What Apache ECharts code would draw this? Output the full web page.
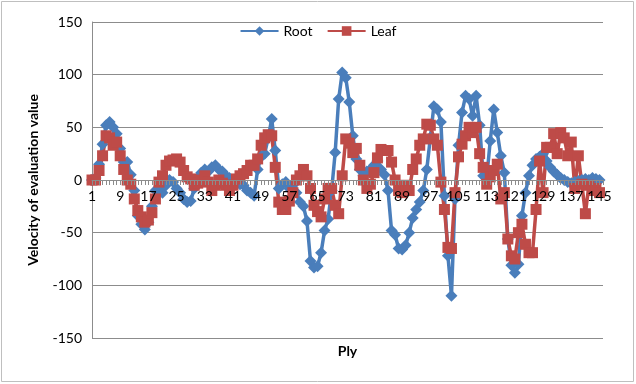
<!DOCTYPE html>
<html>
<head>
<meta charset="utf-8">
<script src="https://cdn.jsdelivr.net/npm/echarts@6/dist/echarts.min.js"></script>
<style>
  html, body { margin: 0; padding: 0; background: #fff; }
  #chart { width: 636px; height: 384px; }
</style>
</head>
<body>
<div id="chart"></div>
<script>
  // ply numbers 1..146
  const plies = []
  for (let i = 1; i <= 146; i++) plies.push(String(i))

  const yTicks = [-150, -100, -50, 0, 50, 100, 150]

  const root = [
    0, 2, 15, 34, 52, 55, 50, 44, 30, 17,
    17, 5, -10, -34, -42, -47, -40, -25, -10, -8,
    -12, -5, 0, -2, -8, -12, -18, -21, -20, -8,
    2, 7, 10, 8, 12, 14, 10, 8, 4, 2,
    0, -2, -4, -5, -10, -12, -15, 10, 22, 25,
    40, 58, 28, -8, -4, -2, -8, -5, -12, -21,
    -25, -39, -77, -83, -82, -69, -48, -37, -10, 26,
    77, 102, 97, 74, 42, 20, 10, 4, 8, 10,
    14, 18, 10, 5, -10, -48, -52, -65, -66, -62,
    -50, -36, -28, -21, -10, 10, 40, 70, 67, 55,
    -15, -72, -110, -18, 33, 64, 80, 77, 61, 80,
    52, 4, 2, 37, 67, 45, 23, 7, -56, -81,
    -88, -80, -34, -12, 4, 14, 20, 22, 25, 18,
    12, 8, 5, 2, 0, -2, -3, -2, -1, 0,
    1, 0, 2, 1, 0
  ]

  const leaf = [
    0, 0, 9, 23, 42, 40, 33, 36, 23, 10,
    0, -4, -18, -29, -35, -40, -38, -31, -18, -2,
    4, 14, 18, 19, 20, 17, 9, 3, 1, -5,
    -3, 0, 4, -2, -10, -5, 0, -3, -5, -10,
    -5, 1, 4, 6, 9, 14, 14, 20, 33, 40,
    43, 42, 12, -21, -28, -28, -20, -12, 0, 4,
    10, 4, -8, -24, -30, -35, -18, -8, -8, -24,
    -32, 4, 39, 35, 26, 30, 14, 0, -8, -4,
    7, 21, 29, 28, 28, 17, 0, -10, -12, -5,
    -10, 10, 20, 33, 39, 53, 52, 39, 33, -2,
    -28, -64, -65, -12, 22, 34, 42, 50, 45, 50,
    25, 12, -4, 3, 9, 15, -18, -12, -56, -72,
    -75, -50, -42, -61, -69, -69, -28, 18, -12, 31,
    31, 44, 25, 45, 40, 23, 36, -8, 23, -4,
    -32, -5, -10, -8, -12
  ]

  const textFont = 'Lato, "Liberation Sans", sans-serif'

  const options = {
    animation: false,
    textStyle: { fontFamily: textFont },
    graphic: [
      {
        type: 'rect',
        shape: { x: 1.5, y: 1.5, width: 632, height: 380 },
        style: { fill: null, stroke: '#bfbfbf', lineWidth: 1 }
      }
    ],
    legend: {
      top: 19,
      left: 'center',
      itemWidth: 38,
      itemHeight: 12,
      itemGap: 14,
      textStyle: { fontSize: 14, color: '#000', fontFamily: textFont },
      data: ['Root', 'Leaf']
    },
    grid: {
      left: 92,
      right: 33,
      top: 22,
      bottom: 46,
      containLabel: false,
      outerBoundsMode: 'none'
    },
    xAxis: {
      type: 'category',
      data: plies,
      boundaryGap: false,
      // axis sits on the zero line like in Excel, drawn over the lines
      offset: -158,
      zlevel: 1,
      name: 'Ply',
      nameLocation: 'middle',
      nameGap: 164,
      nameTextStyle: { fontSize: 14, fontWeight: 'bold', color: '#000' },
      axisLine: { onZero: false, lineStyle: { color: '#8c8c8c', width: 1 } },
      axisTick: { show: true, interval: 0, length: 5, lineStyle: { color: '#8c8c8c' } },
      axisLabel: { interval: 7, fontSize: 14, color: '#000', margin: 9 },
      splitLine: { show: false }
    },
    yAxis: {
      type: 'value',
      min: -150,
      max: 150,
      interval: 50,
      name: 'Velocity of evaluation value',
      nameLocation: 'middle',
      nameGap: 52,
      nameTextStyle: { fontSize: 14, fontWeight: 'bold', color: '#000' },
      axisLine: { show: true, lineStyle: { color: '#8c8c8c', width: 1 } },
      axisTick: { show: false },
      axisLabel: {
        fontSize: 14, color: '#000', margin: 10,
        formatter: v => (yTicks.indexOf(v) >= 0 ? String(v) : '')
      },
      splitLine: { lineStyle: { color: '#8c8c8c', width: 1 } }
    },
    series: [
      {
        name: 'Root',
        type: 'line',
        data: root,
        symbol: 'diamond',
        symbolSize: 12,
        showAllSymbol: true,
        color: '#4a7ebb',
        lineStyle: { width: 3.5, color: '#4a7ebb' },
        itemStyle: { color: '#4a7ebb' }
      },
      {
        name: 'Leaf',
        type: 'line',
        data: leaf,
        symbol: 'rect',
        symbolSize: 11,
        showAllSymbol: true,
        color: '#be4b48',
        lineStyle: { width: 3.5, color: '#be4b48' },
        itemStyle: { color: '#be4b48' }
      }
    ]
  }

  const chart = echarts.init(document.getElementById('chart'))
  chart.setOption(options, true)
</script>
</body>
</html>
